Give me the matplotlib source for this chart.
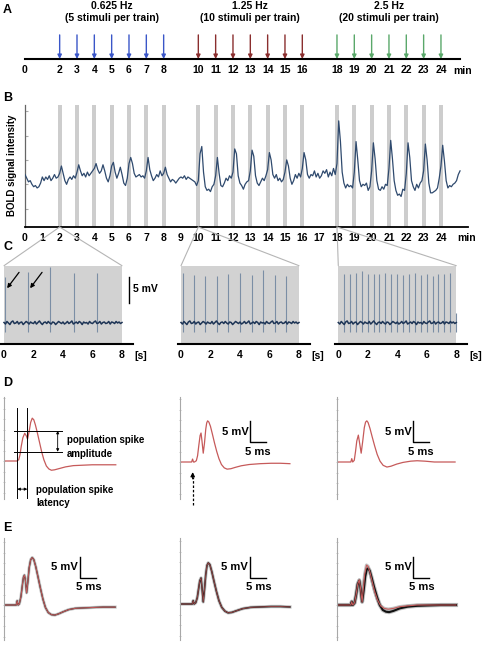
import numpy as np
import matplotlib
matplotlib.use("Agg")
import matplotlib.pyplot as plt
from matplotlib.patches import ConnectionPatch

plt.rcParams['font.family'] = ['Liberation Sans', 'DejaVu Sans']
plt.rcParams['font.weight'] = 'bold'

# ---------------- data ----------------
stim_low = [2, 3, 4, 5, 6, 7, 8]          # 0.625 Hz trains (min)
stim_mid = [10, 11, 12, 13, 14, 15, 16]   # 1.25 Hz trains
stim_high = [18, 19, 20, 21, 22, 23, 24]  # 2.5 Hz trains
header_texts = [("0.625 Hz", "(5 stimuli per train)"),
                ("1.25 Hz", "(10 stimuli per train)"),
                ("2.5 Hz", "(20 stimuli per train)")]
A_ticks = [0] + stim_low + stim_mid + stim_high
B_ticks = list(range(0, 25))

# BOLD signal (arbitrary units), sampled every 0.1 min
bold_signal = [
    43, 40, 37, 38, 35, 33, 34, 32, 33, 36,
    41, 38, 41, 39, 42, 38, 40, 43, 40, 41,
    44, 50, 44, 38, 35, 39, 41, 39, 42, 40,
    45, 51, 46, 42, 44, 41, 45, 42, 44, 46,
    48, 52, 47, 44, 46, 51, 46, 40, 37, 42,
    50, 53, 45, 40, 44, 49, 43, 36, 34, 40,
    52, 57, 52, 44, 41, 42, 43, 41, 42, 40,
    46, 57, 47, 42, 38, 40, 43, 41, 46, 42,
    44, 49, 43, 40, 37, 39, 38, 36, 38, 40,
    41, 40, 42, 39, 41, 40, 39, 38, 37, 34,
    38, 60, 66, 45, 33, 30, 31, 29, 33, 35,
    42, 57, 44, 34, 33, 36, 40, 38, 42, 40,
    45, 64, 60, 42, 36, 34, 31, 35, 37, 38,
    46, 63, 58, 42, 36, 34, 37, 40, 38, 42,
    47, 61, 55, 43, 40, 43, 38, 40, 37, 39,
    45, 55, 50, 40, 35, 38, 43, 40, 44, 41,
    48, 61, 55, 43, 40, 43, 42, 46, 41, 44,
    40, 42, 46, 44, 47, 41, 45, 42, 48, 43,
    52, 87, 70, 45, 36, 32, 35, 33, 34, 32,
    45, 70, 55, 38, 33, 35, 34, 36, 30, 33,
    46, 69, 56, 38, 31, 30, 33, 31, 35, 34,
    48, 71, 56, 38, 30, 26, 27, 25, 31, 30,
    44, 69, 57, 38, 33, 30, 35, 32, 36, 38,
    46, 68, 55, 36, 28, 28, 29, 30, 32, 40,
    50, 67, 54, 38, 32, 34, 33, 35, 36, 38,
    43, 46]
bold_time = np.arange(len(bold_signal)) * 0.1

# C: field potential recordings during one 8 s train
baseline_noise = [
    0.1, -0.2, 0.3, 0.0, -0.3, 0.2, 0.4, -0.1, 0.0, 0.3,
    -0.2, 0.1, 0.2, -0.3, 0.0, 0.3, 0.1, -0.2, 0.2, 0.0,
    -0.1, 0.3, -0.2, 0.1, 0.4, 0.0, -0.3, 0.1, 0.2, -0.1,
    0.3, 0.0, -0.2, 0.2, 0.1, -0.3, 0.0, 0.3, 0.1, -0.1,
    0.2, -0.2, 0.0, 0.3, -0.1, 0.1, 0.4, -0.2, 0.0, 0.2,
    -0.1, 0.3, 0.1, -0.3, 0.2, 0.0, 0.1, -0.2, 0.3, 0.0,
    -0.1, 0.2, 0.4, -0.1, 0.0, 0.3, -0.2, 0.1, 0.2, -0.1,
    0.0, 0.3, -0.2, 0.2, 0.1, -0.1, 0.3, 0.0, 0.2, -0.1, 0.1]
noise_time = np.arange(len(baseline_noise)) * 0.1

spike_t_low = [0.07, 1.63, 3.15, 4.76, 6.33]
spike_h_low = [9.0, 10.0, 11.0, 9.7, 9.8]
spike_t_mid = [0.11, 0.87, 1.66, 2.44, 3.22, 4.00, 4.79, 5.57, 6.35, 7.13]
spike_h_mid = [9.7, 9.3, 9.1, 9.1, 9.5, 9.8, 9.3, 10.3, 9.3, 9.1]
spike_t_high = [0.39, 0.79, 1.19, 1.59, 1.99, 2.39, 2.79, 3.19, 3.59, 3.99,
                4.39, 4.79, 5.19, 5.59, 5.99, 6.39, 6.79, 7.19, 7.59, 7.95]
spike_h_high = [9.5, 9.6, 9.7, 10.1, 9.5, 9.5, 9.6, 9.7, 9.5, 9.6,
                9.3, 9.6, 9.8, 9.3, 9.5, 9.2, 9.6, 9.5, 9.7, 1.9]
spike_trough = -1.7

# D/E: evoked population spikes (ms, mV)
d1_t = [0, 4.0, 4.6, 5.0, 5.4, 5.9, 6.5, 7.0, 7.4, 7.9, 8.4, 8.9, 9.4, 9.9, 10.5, 11.2,
        11.9, 12.6, 13.4, 14.2, 15.0, 16.0, 17.5, 19.5, 22.0, 25.0, 28.0, 32.0, 35.5]
d1_v = [0, 0, 0.3, 1.5, 3.5, 5.5, 6.6, 6.0, 5.2, 7.0, 9.2, 10.2, 9.8, 8.6, 6.8, 4.5,
        2.2, 0.3, -1.2, -1.9, -2.2, -2.1, -1.8, -1.4, -1.1, -1.0, -0.9, -0.9, -0.9]
d2_t = [0, 3.7, 4.0, 4.3, 4.6, 5.2, 5.6, 6.0, 6.4, 6.7, 7.0, 7.4, 7.8, 8.2, 8.5, 8.8, 9.2,
        9.7, 10.3, 11.0, 11.7, 12.4, 13.2, 14.1, 15.0, 16.2, 17.5, 19.5, 22.0, 25.5, 29.0,
        32.0, 35.0]
d2_v = [0, 0, 0.7, 0, 0, 0.3, 1.5, 4.0, 6.3, 6.9, 5.0, 2.1, 4.5, 7.8, 9.3, 9.8, 9.5,
        8.5, 6.7, 4.5, 2.5, 0.8, -0.6, -1.4, -1.7, -1.6, -1.3, -0.9, -0.6, -0.4, -0.3,
        -0.3, -0.4]
d3_t = [0, 4.4, 4.7, 5.0, 5.5, 5.9, 6.3, 6.8, 7.2, 7.7, 8.2, 8.7, 9.1, 9.5, 9.9, 10.5,
        11.2, 12.0, 12.8, 13.7, 14.7, 15.9, 17.2, 19.0, 21.0, 23.5, 25.5, 28.0, 31.0,
        34.5, 37.6]
d3_v = [0, 0, 0.8, 0, 0.4, 2.5, 5.0, 6.4, 4.5, 2.1, 5.0, 8.2, 9.5, 9.8, 9.4, 8.0,
        6.0, 3.8, 1.8, 0.2, -0.8, -1.2, -1.0, -0.5, -0.1, 0.2, 0.3, 0.2, 0.0, 0.0, 0.0]

e1_t = [0, 3.8, 4.1, 4.4, 4.8, 5.3, 5.8, 6.1, 6.4, 6.7, 7.1, 7.5, 7.9, 8.4, 8.9, 9.4,
        10.0, 10.7, 11.5, 12.3, 13.1, 14.0, 15.0, 16.1, 17.3, 18.8, 20.5, 22.5, 25.0,
        28.0, 31.5, 35.3]
e1_v = [0, 0, 1.0, 0, 0.3, 2.0, 5.0, 6.6, 7.1, 6.0, 2.9, 5.5, 8.8, 10.8, 11.3, 10.8,
        9.2, 6.8, 4.0, 1.4, -0.6, -1.8, -2.3, -2.4, -2.1, -1.6, -1.1, -0.8, -0.7,
        -0.6, -0.5, -0.5]
e2_t = [0, 3.9, 4.2, 4.5, 5.0, 5.5, 5.9, 6.3, 6.7, 7.0, 7.4, 7.8, 8.2, 8.6, 9.0, 9.5,
        10.1, 10.8, 11.6, 12.4, 13.3, 14.3, 15.3, 16.5, 18.0, 20.0, 22.5, 25.5, 29.0,
        32.0, 35.0]
e2_v = [0, 0, 0.8, 0, 0.3, 1.5, 3.5, 5.5, 6.2, 4.0, 0.5, 3.5, 7.0, 9.2, 9.8, 9.4,
        7.8, 5.5, 3.0, 0.8, -0.8, -1.7, -2.1, -2.0, -1.6, -1.1, -0.8, -0.7, -0.6,
        -0.6, -0.7]
e3r_t = [0, 4.4, 4.7, 5.0, 5.6, 6.1, 6.6, 7.1, 7.5, 8.0, 8.4, 8.8, 9.4, 9.9, 10.5,
         11.2, 12.0, 12.9, 13.9, 15.0, 16.3, 18.0, 20.0, 22.5, 25.5, 29.0, 33.0, 37.9]
e3r_v = [0, 0, 0.8, 0, 0.5, 2.5, 5.0, 6.0, 4.0, 0.7, 4.0, 7.2, 9.5, 9.2, 7.8,
         5.6, 3.2, 1.2, -0.2, -0.8, -1.0, -0.8, -0.4, -0.2, 0.0, 0.0, 0.0, 0.0]
e3k_t = [0, 4.4, 4.7, 5.0, 5.6, 6.1, 6.6, 7.1, 7.5, 8.0, 8.5, 9.0, 9.5, 9.9, 10.4,
         11.0, 11.8, 12.7, 13.6, 14.6, 15.6, 16.6, 18.0, 20.0, 22.5, 25.5, 29.0, 33.0,
         37.9]
e3k_v = [0, 0, 0.8, 0, 0.5, 2.5, 5.0, 5.8, 4.0, 0.8, 3.5, 6.8, 8.5, 8.7, 8.2,
         6.6, 4.3, 2.0, 0.0, -1.2, -1.6, -1.7, -1.4, -0.8, -0.4, -0.2, -0.1, 0.0, 0.0]

# ---------------- figure ----------------
W, H = 482, 646
fig = plt.figure(figsize=(W / 100, H / 100), dpi=100)


def px_ax(x0, y0, x1, y1):
    return fig.add_axes([x0 / W, 1 - y1 / H, (x1 - x0) / W, (y1 - y0) / H])


def clean(ax):
    for s in ax.spines.values():
        s.set_visible(False)
    ax.set_xticks([])
    ax.set_yticks([])
    ax.patch.set_alpha(0)


FS = 7.5
navy = '#2f4a6e'

# panel letters
for letter, yy in [("A", 10), ("B", 98), ("C", 247), ("D", 383), ("E", 528)]:
    fig.text(3 / W, 1 - yy / H, letter, fontsize=9, fontweight='bold', va='center', ha='left')

# ---------------- A ----------------
axA = px_ax(25, 30, 468, 59)
clean(axA)
axA.set_xlim(0, 25.56)
axA.set_ylim(0, 1)
axA.spines['bottom'].set_visible(True)
axA.spines['bottom'].set_linewidth(1.5)
axA.spines['bottom'].set_bounds(0, 25.1)
axA.set_xticks(A_ticks)
axA.set_xticklabels([str(t) for t in A_ticks], fontsize=FS, fontweight='bold')
axA.tick_params(axis='x', length=0, pad=4.5)
axA.text(25.24, -(71 - 59) / 29, "min", transform=axA.get_xaxis_transform(),
         ha='center', va='center', fontsize=FS, fontweight='bold')
for group, col, hdr in zip([stim_low, stim_mid, stim_high],
                           ['#3a56c8', '#8a2e2e', '#5aa86a'], header_texts):
    for t in group:
        axA.annotate('', xy=(t, 0.0), xytext=(t, 0.83),
                     arrowprops=dict(arrowstyle='-|>', color=col, lw=1.0,
                                     mutation_scale=6, shrinkA=0, shrinkB=0))
    mid = (group[0] + group[-1]) / 2
    axA.text(mid, (59 - 6) / 29, hdr[0], ha='center', va='center', fontsize=FS,
             fontweight='bold', transform=axA.get_xaxis_transform())
    axA.text(mid, (59 - 18) / 29, hdr[1], ha='center', va='center', fontsize=FS,
             fontweight='bold', transform=axA.get_xaxis_transform())

# ---------------- B ----------------
axB = px_ax(25, 105, 468, 227)
axB.set_xlim(0, 25.56)
axB.set_ylim(0, 100)
for s in ['top', 'right']:
    axB.spines[s].set_visible(False)
axB.spines['left'].set_color('#666666')
axB.spines['left'].set_linewidth(0.9)
axB.spines['bottom'].set_linewidth(1.3)
all_stim = stim_low + stim_mid + stim_high
axB.bar(all_stim, [100] * len(all_stim), width=0.22, color='#cdcdcd', zorder=1)
axB.plot(bold_time, bold_signal, color=navy, lw=0.9, zorder=3)
axB.set_xticks(B_ticks)
axB.set_xticklabels([str(t) for t in B_ticks], fontsize=FS, fontweight='bold')
axB.tick_params(axis='x', length=0, pad=4)
axB.set_yticks([15, 35, 55, 75, 95])
axB.set_yticklabels([])
axB.tick_params(axis='y', length=2, color='#aaaaaa', direction='in')
axB.text(25.45, -(238 - 227) / 122, "min", transform=axB.get_xaxis_transform(),
         ha='center', va='center', fontsize=FS, fontweight='bold')
fig.text(12 / W, 1 - 165 / H, "BOLD signal intensity", rotation=90, ha='center',
         va='center', fontsize=7, fontweight='bold')

# ---------------- C ----------------
C_ylim = (-4.1, 11.2)
c_lefts = [4, 181, 338.3]
px_per_s = 14.75
C_axes = []
for left, st, sh in zip(c_lefts, [spike_t_low, spike_t_mid, spike_t_high],
                        [spike_h_low, spike_h_mid, spike_h_high]):
    ax = px_ax(left - 0.2 * px_per_s, 265.7, left + 8.75 * px_per_s, 344)
    clean(ax)
    ax.set_xlim(-0.2, 8.75)
    ax.set_ylim(*C_ylim)
    ax.axvspan(0, 8, color='#d2d2d2', zorder=0, lw=0)
    ax.vlines(st, spike_trough, sh, color='#7b8ea5', lw=0.8, zorder=2)
    ax.plot(noise_time, baseline_noise, color='#1e3556', lw=1.1, zorder=3)
    ax.spines['bottom'].set_visible(True)
    ax.spines['bottom'].set_linewidth(1.5)
    ax.set_xticks([0, 2, 4, 6, 8])
    ax.set_xticklabels(['0', '2', '4', '6', '8'], fontsize=FS, fontweight='bold')
    ax.tick_params(axis='x', length=0, pad=4.5)
    ax.text(9.3, -(356 - 344) / 78.3, "[s]", transform=ax.get_xaxis_transform(),
            ha='center', va='center', fontsize=FS, fontweight='bold')
    C_axes.append(ax)

# scale bar and arrows in first C panel
axC1 = C_axes[0]
axC1.plot([8.47, 8.47], [3.9, 8.9], color='k', lw=1.0, clip_on=False)
axC1.text(8.72, 6.6, "5 mV", ha='left', va='center', fontsize=FS, fontweight='bold',
          clip_on=False)
for t in spike_t_low[:2]:
    axC1.annotate('', xy=(t + 0.14, 6.8), xytext=(t + 0.95, 9.9),
                  arrowprops=dict(arrowstyle='-|>', color='k', lw=0.9,
                                  mutation_scale=6, shrinkA=0, shrinkB=0))

# zoom connector lines
for ax, t0 in zip(C_axes, [stim_low[0], stim_mid[0], stim_high[0]]):
    for xb in [0, 8]:
        con = ConnectionPatch(xyA=(t0, 0), coordsA=axB.transData,
                              xyB=(xb, C_ylim[1]), coordsB=ax.transData,
                              color='#b5b5b5', lw=0.8)
        fig.add_artist(con)

# ---------------- D & E ----------------
px_ms = 3.14
px_mv = 4.2
de_lefts = [4.3, 180, 337]


def trace_axes(left, y0, y1, baseline_px):
    ax = px_ax(left, y0, left + 125, y1)
    clean(ax)
    ax.set_xlim(0, 125 / px_ms)
    ax.set_ylim(-(y1 - baseline_px) / px_mv, (baseline_px - y0) / px_mv)
    ax.spines['left'].set_visible(True)
    ax.spines['left'].set_color('#a8a8a8')
    ax.spines['left'].set_linewidth(0.8)
    ax.set_yticks(np.arange(-7.5, 15.1, 2.5))
    ax.set_yticklabels([])
    ax.tick_params(axis='y', length=2, color='#c0c0c0', direction='inout', width=0.6)
    return ax


def scale_bar(ax, x, y, tx_mv, ty_mv, tx_ms, ty_ms):
    ax.plot([x, x, x + 5], [y + 5, y, y], color='k', lw=1.0, clip_on=False)
    ax.text(tx_mv, ty_mv, "5 mV", ha='right', va='center', fontsize=8, fontweight='bold')
    ax.text(tx_ms, ty_ms, "5 ms", ha='center', va='center', fontsize=8, fontweight='bold')


red = '#c65a5a'
D_axes = [trace_axes(l, 397, 499, b) for l, b in zip(de_lefts, [461, 462, 462])]
D_axes[0].plot(d1_t, d1_v, color=red, lw=0.9)
D_axes[1].plot(d2_t, d2_v, color=red, lw=0.9)
D_axes[2].plot(d3_t, d3_v, color=red, lw=0.9)
scale_bar(D_axes[1], 22.3, 4.76, 21.8, 7.1, 24.8, 2.4)
scale_bar(D_axes[2], 24.3, 4.76, 23.8, 7.1, 26.8, 2.4)

# D1 annotations
axD1 = D_axes[0]
for xv in [4.14, 7.32]:
    axD1.plot([xv, xv], [12.6, -9.05], color='k', lw=0.7)
for yv in [7.2, 2.2]:
    axD1.plot([3.1, 18.5], [yv, yv], color='k', lw=0.7)
axD1.annotate('', xy=(17.0, 7.2), xytext=(17.0, 2.2),
              arrowprops=dict(arrowstyle='<|-|>', lw=0.6, mutation_scale=4,
                              shrinkA=0, shrinkB=0, color='k'))
axD1.annotate('', xy=(4.14, -6.7), xytext=(7.32, -6.7),
              arrowprops=dict(arrowstyle='<|-|>', lw=0.6, mutation_scale=4,
                              shrinkA=0, shrinkB=0, color='k'))
axD1.text(19.9, 7.2 - 2.6 + 0.3, "population spike", ha='left', va='center', fontsize=7,
          fontweight='bold', clip_on=False)
axD1.text(19.9, 1.6, "amplitude", ha='left', va='center', fontsize=7,
          fontweight='bold', clip_on=False)
axD1.text(10.1, -6.9, "population spike", ha='left', va='center', fontsize=7,
          fontweight='bold', clip_on=False)
axD1.text(10.1, -9.9, "latency", ha='left', va='center', fontsize=7,
          fontweight='bold', clip_on=False)

# D2 dashed stimulus arrow
axD2 = D_axes[1]
axD2.plot([4.04, 4.04], [-10.2, -3.6], color='k', lw=0.9, ls=(0, (2, 1.5)), clip_on=False)
axD2.annotate('', xy=(4.04, -2.4), xytext=(4.04, -4.0),
              arrowprops=dict(arrowstyle='-|>', lw=0.9, mutation_scale=6,
                              shrinkA=0, shrinkB=0, color='k'))

E_axes = [trace_axes(l, 538, 640, b) for l, b in zip(de_lefts, [605, 604, 605])]
E_axes[0].plot(e1_t, e1_v, color='#9a9a9a', lw=2.2, alpha=0.6)
E_axes[0].plot(e1_t, e1_v, color='#222222', lw=0.9)
E_axes[0].plot(e1_t, e1_v, color=red, lw=0.7)
E_axes[1].plot(e2_t, e2_v, color='#9a9a9a', lw=2.4, alpha=0.6)
E_axes[1].plot(e2_t, e2_v, color='#111111', lw=1.1)
E_axes[1].plot(e2_t, e2_v, color=red, lw=0.6, alpha=0.8)
E_axes[2].plot(e3r_t, e3r_v, color='#9a9a9a', lw=2.4, alpha=0.6)
E_axes[2].plot(e3k_t, e3k_v, color='#9a9a9a', lw=3.0, alpha=0.6)
E_axes[2].plot(e3k_t, e3k_v, color='#111111', lw=1.5)
E_axes[2].plot(e3r_t, e3r_v, color=red, lw=0.8)
scale_bar(E_axes[0], 24.1, 6.5, 23.5, 9.0, 27.0, 4.3)
scale_bar(E_axes[1], 22.3, 6.3, 21.7, 8.8, 25.2, 4.0)
scale_bar(E_axes[2], 24.3, 6.5, 23.7, 9.0, 27.0, 4.3)

fig.savefig("out.png", dpi=100)
